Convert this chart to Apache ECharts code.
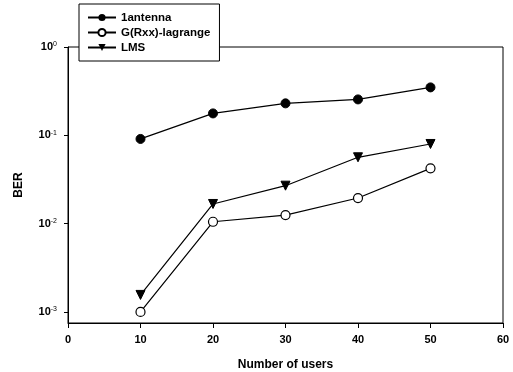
<!DOCTYPE html>
<html><head><meta charset="utf-8">
<script src="https://cdn.jsdelivr.net/npm/echarts@6/dist/echarts.min.js"></script>
<style>html,body{margin:0;padding:0;background:#fff}#c{width:513px;height:372px}</style>
</head><body><div id="c"></div>
<script>
const users = [10, 20, 30, 40, 50];
const antenna1 = [0.091, 0.177, 0.230, 0.255, 0.349];
const gRxx = [0.0010, 0.0105, 0.0125, 0.0195, 0.0423];
const lms = [0.00156, 0.0167, 0.0269, 0.0564, 0.0798];
const xTicks = [0, 10, 20, 30, 40, 50, 60];
const yTicks = [0.001, 0.01, 0.1, 1];
const yExp = ['-3', '-2', '-1', '0'];

const font = '"Liberation Sans", Arial, sans-serif';
const chart = echarts.init(document.getElementById('c'), null, {renderer: 'canvas'});
function pairs(v) { return users.map((u, i) => [u, v[i]]); }
const lineStyle = {color: '#000', width: 1.2};
chart.setOption({
  animation: false,
  backgroundColor: '#fff',
  grid: {left: 68, right: 10, top: 47, bottom: 49, show: true, borderColor: '#000', borderWidth: 1,
         backgroundColor: 'transparent', containLabel: false, outerBoundsMode: 'none'},
  legend: {
    orient: 'vertical', left: 79, top: 4,
    backgroundColor: '#fff', borderColor: '#000', borderWidth: 1,
    padding: [7, 9, 7, 8], itemGap: 2, itemWidth: 28, itemHeight: 9,
    textStyle: {fontFamily: font, fontSize: 11.5, color: '#000', fontWeight: 'bold', lineHeight: 13},
    data: ['1antenna', 'G(Rxx)-lagrange', 'LMS']
  },
  xAxis: {
    type: 'value', min: 0, max: 60, interval: 10,
    name: 'Number of users', nameLocation: 'middle', nameGap: 36,
    nameTextStyle: {fontFamily: font, fontSize: 12, fontWeight: 'bold', color: '#000'},
    axisLine: {lineStyle: {color: '#000'}},
    axisTick: {show: true, length: 5, lineStyle: {color: '#000'}},
    axisLabel: {fontFamily: font, fontSize: 11, fontWeight: 'bold', color: '#000', margin: 11},
    splitLine: {show: false}
  },
  yAxis: {
    type: 'log', logBase: 10, min: 0.00075, max: 1,
    name: 'BER', nameLocation: 'middle', nameGap: 43, nameRotate: 90,
    nameTextStyle: {fontFamily: font, fontSize: 12, fontWeight: 'bold', color: '#000'},
    axisLine: {show: true, lineStyle: {color: '#000'}},
    axisTick: {show: true, length: 4, lineStyle: {color: '#000'}, customValues: yTicks},
    axisLabel: {
      customValues: yTicks, margin: 11,
      formatter: function (v) {
        const i = yTicks.findIndex(t => Math.abs(Math.log10(t) - Math.log10(v)) < 0.01);
        return '{b|10}{s|' + (i >= 0 ? yExp[i] : '') + '}';
      },
      rich: {
        b: {fontFamily: font, fontSize: 11, fontWeight: 'bold', color: '#000'},
        s: {fontFamily: font, fontSize: 7, color: '#000', verticalAlign: 'top', padding: [0, 0, 5, 0]}
      }
    },
    splitLine: {show: false}
  },
  series: [
    {name: '1antenna', type: 'line', data: pairs(antenna1), symbol: 'circle', symbolSize: 9,
     lineStyle: lineStyle, itemStyle: {color: '#000', borderColor: '#000'}},
    {name: 'G(Rxx)-lagrange', type: 'line', data: pairs(gRxx), symbol: 'circle', symbolSize: 9,
     lineStyle: lineStyle, itemStyle: {color: '#fff', borderColor: '#000', borderWidth: 1.2}},
    {name: 'LMS', type: 'line', data: pairs(lms), symbol: 'triangle', symbolRotate: 180, symbolSize: 9,
     lineStyle: lineStyle, itemStyle: {color: '#000', borderColor: '#000'}}
  ]
});
</script></body></html>
